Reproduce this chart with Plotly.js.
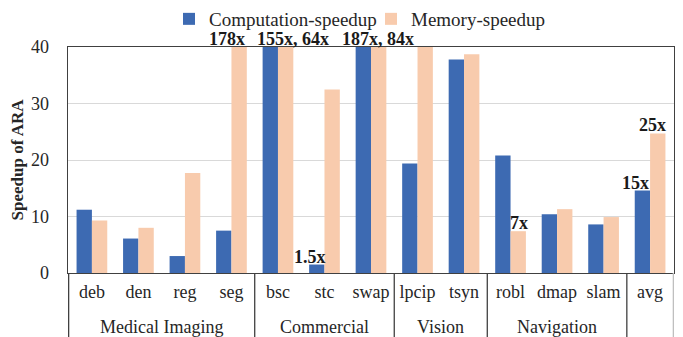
<!DOCTYPE html>
<html>
<head>
<meta charset="utf-8">
<script src="https://cdn.plot.ly/plotly-3.0.1.min.js"></script>
<style>html,body{margin:0;padding:0;background:#fff;}#chart{width:683px;height:337px;}</style>
</head>
<body>
<div id="chart"></div>
<script>
const categories = ["deb","den","reg","seg","bsc","stc","swap","lpcip","tsyn","robl","dmap","slam","avg"];
const groupNames = ["Medical Imaging","Commercial","Vision","Navigation",""];
const groupSizes = [4, 3, 2, 3, 1];
const computationSpeedup = [11.2, 6.1, 3.0, 7.5, 155, 1.5, 187, 19.4, 37.8, 20.8, 10.4, 8.6, 14.6];
const memorySpeedup = [9.3, 8.0, 17.7, 178, 64, 32.5, 84, 40, 38.7, 7.4, 11.3, 9.9, 24.7];
// value labels drawn over bars: category, text, which series it belongs to
const labelCategory = ["seg", "bsc", "stc", "swap", "robl", "avg", "avg"];
const labelText = ["178x", "155x, 64x", "1.5x", "187x, 84x", "7x", "15x", "25x"];
const labelSeries = ["memory", "both", "computation", "both", "memory", "computation", "memory"];
const yMax = 40;

// ---- styling / placement (not data) ----
const FONT = 'Liberation Serif, Times New Roman, serif';
const labelXShift = [-12, 15, -7, 7, 1, -7, -5];
const plotH = 337 - 47 - 64;

const annotations = labelCategory.map((cat, k) => {
  const ci = categories.indexOf(cat);
  const s = labelSeries[k];
  const c = Math.min(computationSpeedup[ci], yMax), m = Math.min(memorySpeedup[ci], yMax);
  let y, xo;
  if (s === 'both') { y = Math.max(c, m); xo = 0; }
  else if (s === 'computation') { y = c; xo = -0.165; }
  else { y = m; xo = 0.165; }
  return {
    xref: 'x', yref: 'y', x: ci + xo, y: y,
    text: '<b>' + labelText[k] + '</b>', showarrow: false,
    yanchor: 'bottom', xanchor: 'center', yshift: -4, xshift: labelXShift[k],
    font: {family: FONT, size: 18, color: '#1a1a1a'}
  };
});

const shapes = [];
let start = 0;
const divY1 = -64 / plotH;
shapes.push({type: 'line', xref: 'x', yref: 'paper', x0: -0.5, x1: -0.5, y0: 0, y1: divY1,
             line: {color: '#404040', width: 1.3}});
groupNames.forEach((g, gi) => {
  const end = start + groupSizes[gi];
  shapes.push({type: 'line', xref: 'x', yref: 'paper', x0: end - 0.5, x1: end - 0.5, y0: 0, y1: divY1,
               line: {color: gi === groupNames.length - 1 ? '#bfbfbf' : '#404040', width: 1.3}});
  if (g) annotations.push({xref: 'x', yref: 'paper', x: (start + end - 1) / 2, y: -54 / plotH,
    text: g, showarrow: false, yanchor: 'middle', xanchor: 'center',
    font: {family: FONT, size: 18, color: '#262626'}});
  start = end;
});

const data = [
  {type: 'bar', name: 'Computation-speedup', x: categories, y: computationSpeedup,
   marker: {color: '#3D6AB2'}},
  {type: 'bar', name: 'Memory-speedup', x: categories, y: memorySpeedup,
   marker: {color: '#F8CBAD'}}
];

const layout = {
  width: 683, height: 337,
  margin: {l: 68, r: 9, t: 47, b: 64},
  paper_bgcolor: '#fff', plot_bgcolor: '#fff',
  font: {family: FONT, size: 18, color: '#262626'},
  barmode: 'group', bargap: 0.34, bargroupgap: 0,
  showlegend: true,
  legend: {orientation: 'h', x: 0.5, xanchor: 'center', yref: 'container', y: 1.0,
           yanchor: 'top', font: {size: 19}, itemwidth: 30, entrywidth: 157,
           traceorder: 'normal', tracegroupgap: 0},
  xaxis: {type: 'category', showline: true, linecolor: '#404040', linewidth: 1.3,
          mirror: true, ticks: '', tickfont: {size: 18}, ticklabelstandoff: 2},
  yaxis: {range: [0, yMax], dtick: 10, showgrid: true, gridcolor: '#d9d9d9', gridwidth: 1,
          showline: true, linecolor: '#404040', linewidth: 1.3, mirror: true, ticks: '',
          zeroline: false, tickfont: {size: 18}, ticklabelstandoff: 14,
          title: {text: '<b>Speedup of ARA</b>', font: {size: 17}, standoff: 3}},
  annotations: annotations,
  shapes: shapes
};
Plotly.newPlot('chart', data, layout, {displayModeBar: false, staticPlot: true});
</script>
</body>
</html>
